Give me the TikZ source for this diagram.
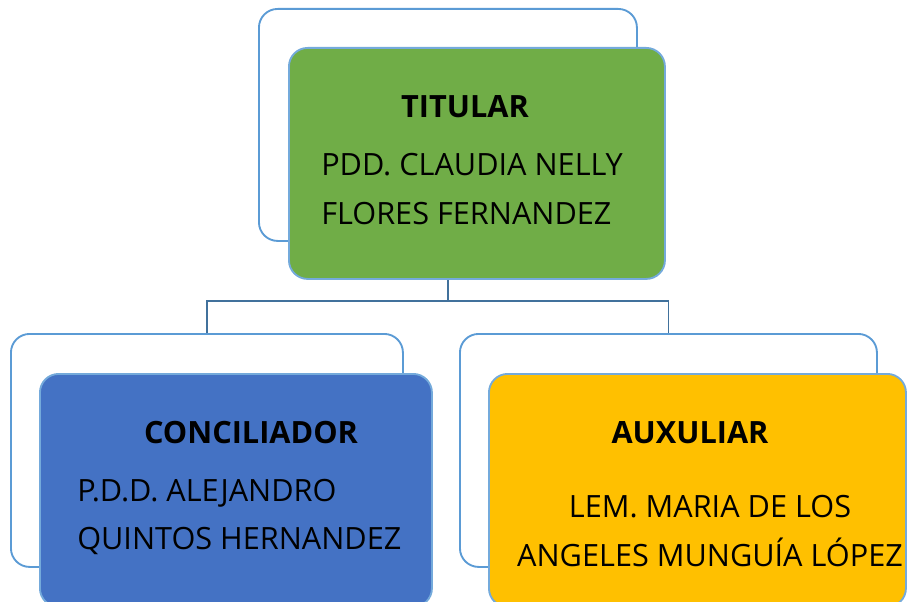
\documentclass[tikz,border=0pt]{standalone}
\usepackage{fontspec}
\setmainfont{Open Sans}
\definecolor{framecol}{HTML}{5B9BD5}
\definecolor{conncol}{HTML}{41719C}
\definecolor{titgreen}{HTML}{70AD47}
\definecolor{concblue}{HTML}{4472C4}
\definecolor{auxgold}{HTML}{FFC000}
\tikzset{
  frame/.style={rectangle, rounded corners=14pt, draw=framecol, line width=1.4pt,
    fill=white, inner sep=0pt, anchor=north west},
  front/.style={frame, draw=framecol!85},
  conn/.style={draw=conncol, line width=1.4pt},
  ttl/.style={font=\bfseries\fontsize{23}{28}\selectfont, inner sep=0pt, anchor=base},
  txt/.style={font=\fontsize{23}{28}\selectfont, inner sep=0pt, anchor=base west},
}
\begin{document}
\begin{tikzpicture}[x=0.75pt,y=-0.75pt]

% -----------------------
% Cadre de la page
% -----------------------
\useasboundingbox (0,0) rectangle (909,602);
\clip (0,0) rectangle (909,602);

% -----------------------
% Cadres arriere
% -----------------------
\node[frame, minimum width=378*0.75pt, minimum height=232*0.75pt] (titback) at (258,8) {};
\node[frame, minimum width=392*0.75pt, minimum height=233*0.75pt] (concback) at (10,333) {};
\node[frame, minimum width=417*0.75pt, minimum height=233*0.75pt] (auxback) at (459,333) {};

% -----------------------
% Liaisons
% -----------------------
\draw[conn] (titback.south) -- ++(0,59) coordinate (split);
\draw[conn] (split) -| (concback.north);
\draw[conn] (split) -| (auxback.north);

% -----------------------
% Boites
% -----------------------
\node[front, fill=titgreen, minimum width=376*0.75pt, minimum height=231*0.75pt] (titular) at (288,47) {};
\node[front, fill=concblue, minimum width=392*0.75pt, minimum height=233*0.75pt] (conciliador) at (39,373) {};
\node[front, fill=auxgold, minimum width=417*0.75pt, minimum height=233*0.75pt] (auxiliar) at (488,373) {};

% -----------------------
% Textes
% -----------------------
\node[ttl] (titname) at (465,118) {TITULAR};
\node[txt] (titline1) at (321,176) {PDD. CLAUDIA NELLY};
\node[txt] (titline2) at (321,224) {FLORES FERNANDEZ};

\node[ttl] (concname) at (251,443) {CONCILIADOR};
\node[txt] (concline1) at (77,501) {P.D.D. ALEJANDRO};
\node[txt] (concline2) at (77,549) {QUINTOS HERNANDEZ};

\node[ttl] (auxname) at (690,443) {AUXULIAR};
\node[txt, anchor=base] (auxline1) at (710,517) {LEM. MARIA DE LOS};
\node[txt, anchor=base] (auxline2) at (710,566) {ANGELES MUNGUÍA LÓPEZ};

\end{tikzpicture}
\end{document}
